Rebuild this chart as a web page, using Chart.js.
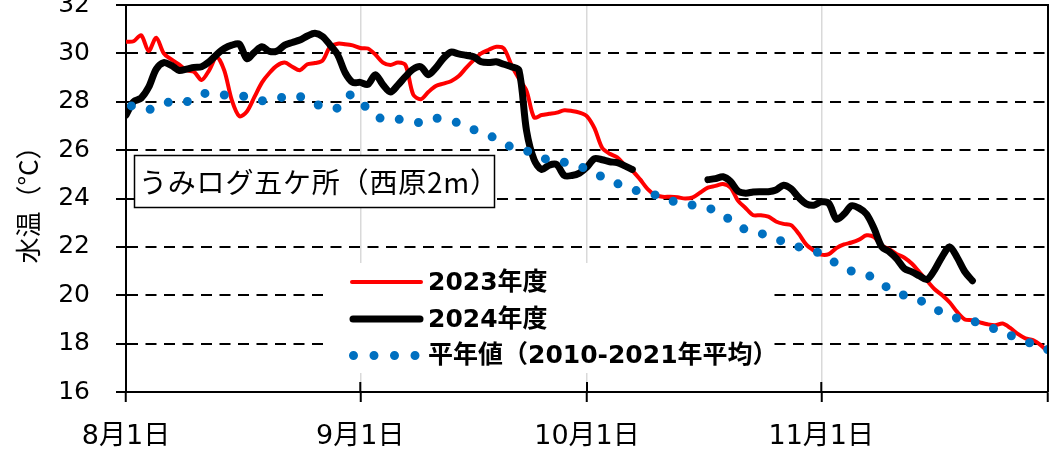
<!DOCTYPE html>
<html><head><meta charset="utf-8">
<script src="https://cdn.jsdelivr.net/npm/chart.js@4.4.1/dist/chart.umd.min.js"></script>
<style>html,body{margin:0;padding:0;background:#fff;overflow:hidden}</style>
</head><body>
<canvas id="c" width="1053" height="457"></canvas>
<script>
// ---- data (daily values, day 0 = 8月1日) ----
const tickDays   = [0, 31, 61, 92, 122];
const tickLabels = ['8月1日', '9月1日', '10月1日', '11月1日', ''];
const yMin = 16, yMax = 32, yStep = 2;
const seriesNames = ['2023年度', '2024年度', '平年値（2010-2021年平均）'];
const yTitle = '水温（°C）';
const boxLabel = 'うみログ五ケ所（西原2m）';

const temp2023 = [
30.48,30.5,30.75,30.1,30.65,30.0,29.75,29.55,29.3,29.24,
28.9,29.3,29.85,29.3,28.07,27.4,27.6,28.2,28.8,29.2,
29.5,29.62,29.45,29.3,29.55,29.6,29.7,30.27,30.4,30.38,
30.33,30.22,30.2,29.95,29.62,29.52,29.62,29.5,28.3,28.1,
28.4,28.65,28.75,28.85,29.05,29.4,29.72,30.0,30.15,30.27,
30.2,29.52,28.95,28.45,27.35,27.45,27.5,27.55,27.65,27.62,
27.55,27.4,26.9,26.1,25.85,25.7,25.38,25.15,24.8,24.4,
24.15,24.07,24.07,24.05,24.0,24.05,24.25,24.45,24.52,24.6,
24.45,23.9,23.6,23.31,23.31,23.25,23.05,22.95,22.9,22.55,
22.1,21.85,21.68,21.7,21.95,22.1,22.18,22.3,22.48,22.4,
22.05,21.9,21.7,21.55,21.3,20.95,20.6,20.25,20.0,19.7,
19.3,19.0,18.97,18.88,18.8,18.76,18.83,18.65,18.4,18.22,
18.15,17.95,17.66];

const temp2024 = [
27.45,28.0,28.15,28.6,29.35,29.62,29.5,29.3,29.35,29.42,
29.45,29.65,29.95,30.2,30.34,30.38,29.78,30.05,30.27,30.08,
30.1,30.34,30.45,30.55,30.72,30.83,30.7,30.35,29.95,29.2,
28.8,28.8,28.72,29.12,28.7,28.4,28.7,29.05,29.35,29.45,
29.12,29.4,29.8,30.05,29.98,29.92,29.86,29.65,29.62,29.65,
29.55,29.45,29.3,26.8,25.6,25.2,25.38,25.4,24.95,24.95,
25.05,25.3,25.65,25.6,25.52,25.48,25.35,25.2,null,null,
null,null,null,null,null,null,null,24.78,24.82,24.9,
24.7,24.3,24.22,24.27,24.28,24.28,24.35,24.55,24.4,24.05,
23.78,23.72,23.86,23.8,23.15,23.35,23.7,23.6,23.35,22.75,
22.0,21.8,21.5,21.1,20.97,20.8,20.65,21.05,21.6,22.0,
21.55,20.97,20.6];

const tempAvg = [
27.9,27.8,27.7,27.68,27.75,27.92,28.0,28.0,28.0,28.15,
28.32,28.35,28.3,28.28,28.28,28.25,28.2,28.1,28.04,28.08,
28.15,28.2,28.25,28.22,28.05,27.92,27.8,27.7,27.75,28.2,
28.28,28.0,27.7,27.4,27.3,27.3,27.28,27.22,27.15,27.15,
27.25,27.32,27.28,27.2,27.12,26.98,26.85,26.72,26.6,26.48,
26.3,26.12,26.02,25.96,25.9,25.72,25.57,25.52,25.5,25.45,
25.32,25.22,25.05,24.9,24.78,24.62,24.5,24.38,24.28,24.2,
24.15,24.1,23.95,23.8,23.75,23.73,23.7,23.6,23.52,23.35,
23.08,22.85,22.72,22.64,22.55,22.48,22.35,22.2,22.08,22.0,
21.93,21.85,21.7,21.55,21.3,21.12,21.0,20.94,20.85,20.7,
20.5,20.25,20.08,20.0,19.92,19.8,19.62,19.45,19.28,19.12,
19.05,19.0,18.95,18.8,18.7,18.6,18.47,18.35,18.2,18.1,
17.98,17.85,17.75];

// ---- styles ----
const RED = '#ff0000', BLACK = '#000000', BLUE = '#0070c0';
const CJK = "'Noto Sans CJK JP'";
const toXY = arr => arr.map((v, i) => ({x: i, y: v}));

const decor = {
  id: 'decor',
  beforeDatasetsDraw(chart) {
    const ctx = chart.ctx;
    ctx.save();
    // legend background
    ctx.fillStyle = '#fff';
    ctx.fillRect(330, 263, 443, 110);
    // label box
    ctx.fillRect(134.5, 155.5, 360, 52);
    ctx.strokeStyle = '#000';
    ctx.lineWidth = 1.5;
    ctx.strokeRect(134.5, 155.5, 360, 52);
    ctx.fillStyle = '#000';
    ctx.font = "28px " + CJK;
    ctx.textBaseline = 'middle';
    ctx.textAlign = 'left';
    try { ctx.letterSpacing = '0.8px'; } catch (e) {}
    ctx.fillText(boxLabel, 139, 182);
    try { ctx.letterSpacing = '0px'; } catch (e) {}
    // legend entries
    const ds = chart.data.datasets;
    const rows = [282, 319, 355.5];
    ctx.lineCap = 'round';
    ctx.strokeStyle = ds[2].borderColor; ctx.lineWidth = ds[2].borderWidth;
    ctx.beginPath(); ctx.moveTo(352, rows[0]); ctx.lineTo(421, rows[0]); ctx.stroke();
    ctx.strokeStyle = ds[1].borderColor; ctx.lineWidth = ds[1].borderWidth;
    ctx.beginPath(); ctx.moveTo(353, rows[1]); ctx.lineTo(420, rows[1]); ctx.stroke();
    ctx.strokeStyle = ds[0].borderColor; ctx.lineWidth = ds[0].borderWidth;
    ctx.setLineDash([0, 20.5]);
    ctx.beginPath(); ctx.moveTo(353.5, rows[2]); ctx.lineTo(416, rows[2]); ctx.stroke();
    ctx.setLineDash([]);
    ctx.fillStyle = '#000';
    ctx.font = "bold 25px 'DejaVu Sans', " + CJK;
    ctx.fillText(seriesNames[0], 428, rows[0] + 1);
    ctx.fillText(seriesNames[1], 428, rows[1] + 1);
    ctx.fillText(seriesNames[2], 428, rows[2] + 1);
    ctx.restore();
  },
  afterDraw(chart) {
    const ctx = chart.ctx, a = chart.chartArea, xs = chart.scales.x;
    ctx.save();
    ctx.strokeStyle = '#000';
    ctx.lineWidth = 2;
    ctx.beginPath();
    ctx.moveTo(a.left, a.top); ctx.lineTo(a.right, a.top); ctx.lineTo(a.right, a.bottom);
    ctx.stroke();
    tickDays.forEach(d => {
      const x = xs.getPixelForValue(d);
      ctx.beginPath(); ctx.moveTo(x, a.bottom - 10); ctx.lineTo(x, a.bottom); ctx.stroke();
    });
    ctx.restore();
  }
};

new Chart(document.getElementById('c'), {
  type: 'line',
  data: {
    datasets: [
      { label: seriesNames[2], data: toXY(tempAvg), borderColor: BLUE, borderWidth: 9,
        borderDash: [0, 19.4], borderDashOffset: 13.8, borderCapStyle: 'round',
        pointRadius: 0, tension: 0.3, order: 0 },
      { label: seriesNames[1], data: toXY(temp2024), borderColor: BLACK, borderWidth: 7,
        borderCapStyle: 'round', borderJoinStyle: 'round', pointRadius: 0, tension: 0.3,
        spanGaps: false, order: 1 },
      { label: seriesNames[0], data: toXY(temp2023), borderColor: RED, borderWidth: 4,
        borderCapStyle: 'round', borderJoinStyle: 'round', pointRadius: 0, tension: 0.3, order: 2 }
    ]
  },
  options: {
    responsive: false, animation: false, devicePixelRatio: 1,
    layout: { padding: { top: 5, right: 5, left: 0, bottom: 0 } },
    plugins: { legend: { display: false }, tooltip: { enabled: false } },
    scales: {
      x: {
        type: 'linear', min: tickDays[0], max: tickDays[tickDays.length - 1],
        afterBuildTicks: s => { s.ticks = tickDays.map(v => ({ value: v })); },
        ticks: {
          autoSkip: false, maxRotation: 0, color: '#000', padding: 19,
          font: { family: "'DejaVu Sans', " + CJK, size: 27 },
          callback: v => tickLabels[tickDays.indexOf(v)]
        },
        grid: {
          color: c => (c.tick && (c.tick.value === tickDays[0] || c.tick.value === tickDays[tickDays.length - 1])) ? 'rgba(0,0,0,0)' : '#d9d9d9',
          lineWidth: 1.5, tickLength: 10, tickColor: '#000', tickWidth: 2
        },
        border: { color: '#000', width: 2 },
        afterFit: s => { s.height = 65; s.paddingLeft = 0; s.paddingRight = 0; }
      },
      y: {
        min: yMin, max: yMax,
        ticks: { stepSize: yStep, color: '#000', padding: 26,
          font: { family: "'DejaVu Sans'", size: 25 } },
        grid: {
          color: c => (c.tick && (c.tick.value === yMin || c.tick.value === yMax)) ? 'rgba(0,0,0,0)' : '#000',
          lineWidth: 2, tickLength: 10, tickColor: '#000', tickWidth: 2
        },
        border: { color: '#000', width: 2, dash: [11, 7.5] },
        title: { display: true, text: yTitle, color: '#000',
          font: { family: CJK, size: 26 }, padding: { top: 13, bottom: 0 } },
        afterFit: s => { s.width = 126; s.paddingTop = 0; s.paddingBottom = 0; }
      }
    }
  },
  plugins: [decor]
});
</script>
</body></html>
